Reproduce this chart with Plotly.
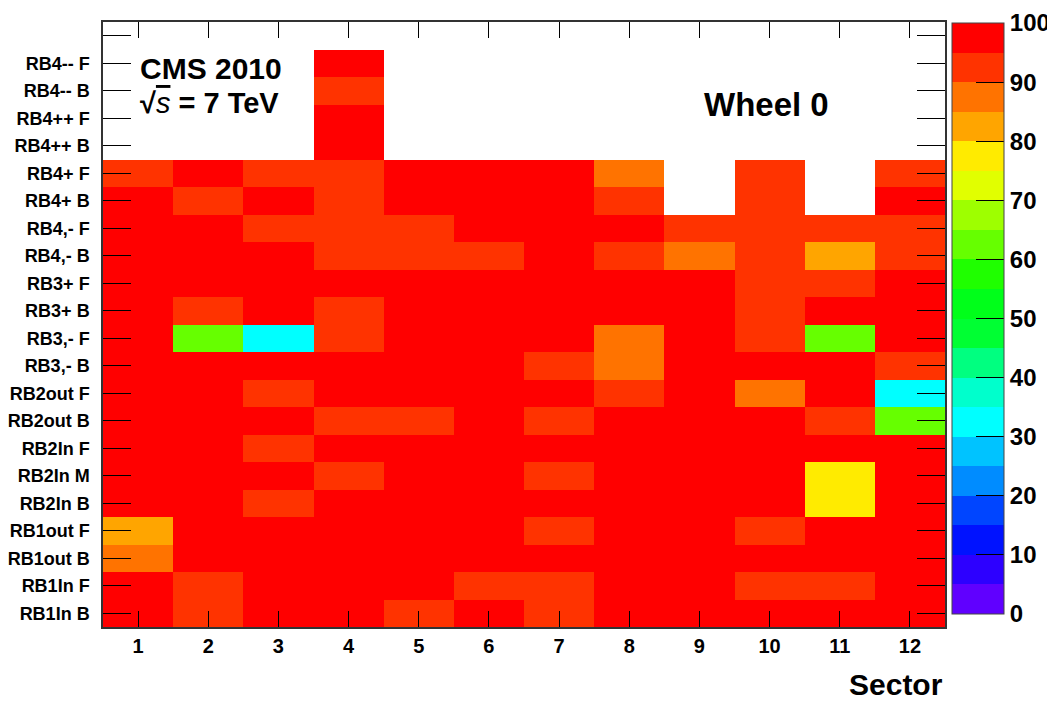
import plotly.graph_objects as go

sectors = list(range(1, 13))
row_labels = [
    "RB1In B", "RB1In F", "RB1out B", "RB1out F", "RB2In B", "RB2In M",
    "RB2In F", "RB2out B", "RB2out F", "RB3,- B", "RB3,- F", "RB3+ B",
    "RB3+ F", "RB4,- B", "RB4,- F", "RB4+ B", "RB4+ F", "RB4++ B",
    "RB4++ F", "RB4-- B", "RB4-- F", "",
]
N = None
rb1in_b   = [98, 93, 98, 98, 92, 98, 93, 98, 98, 98, 98, 98]
rb1in_f   = [98, 93, 98, 98, 98, 93, 92, 98, 98, 93, 93, 98]
rb1out_b  = [88, 98, 98, 98, 98, 98, 98, 98, 98, 98, 98, 98]
rb1out_f  = [83, 98, 98, 98, 98, 98, 93, 98, 98, 93, 98, 98]
rb2in_b   = [98, 98, 93, 98, 98, 98, 98, 98, 98, 98, 78, 98]
rb2in_m   = [98, 98, 98, 93, 98, 98, 93, 98, 98, 98, 78, 98]
rb2in_f   = [98, 98, 93, 98, 98, 98, 98, 98, 98, 98, 98, 98]
rb2out_b  = [98, 98, 98, 93, 93, 98, 93, 98, 98, 98, 93, 63]
rb2out_f  = [98, 98, 93, 98, 98, 98, 98, 93, 98, 88, 98, 33]
rb3m_b    = [98, 98, 98, 98, 98, 98, 93, 88, 98, 98, 98, 93]
rb3m_f    = [98, 63, 33, 93, 98, 98, 98, 88, 98, 93, 63, 98]
rb3p_b    = [98, 93, 98, 93, 98, 98, 98, 98, 98, 93, 98, 98]
rb3p_f    = [98, 98, 98, 98, 98, 98, 98, 98, 98, 93, 93, 98]
rb4m_b    = [98, 98, 98, 93, 93, 93, 98, 93, 88, 93, 83, 93]
rb4m_f    = [98, 98, 93, 93, 93, 98, 98, 98, 93, 93, 93, 93]
rb4p_b    = [98, 93, 98, 93, 98, 98, 98, 93, N, 93, N, 98]
rb4p_f    = [93, 98, 93, 93, 98, 98, 98, 88, N, 93, N, 93]
rb4pp_b   = [N, N, N, 98, N, N, N, N, N, N, N, N]
rb4pp_f   = [N, N, N, 98, N, N, N, N, N, N, N, N]
rb4mm_b   = [N, N, N, 93, N, N, N, N, N, N, N, N]
rb4mm_f   = [N, N, N, 98, N, N, N, N, N, N, N, N]
empty_row = [N] * 12

z = [rb1in_b, rb1in_f, rb1out_b, rb1out_f, rb2in_b, rb2in_m, rb2in_f,
     rb2out_b, rb2out_f, rb3m_b, rb3m_f, rb3p_b, rb3p_f, rb4m_b, rb4m_f,
     rb4p_b, rb4p_f, rb4pp_b, rb4pp_f, rb4mm_b, rb4mm_f, empty_row]
y_pos = list(range(1, len(row_labels) + 1))

band_colors = [
    "#6000FF", "#2D00FF", "#0012FF", "#0045FF", "#008CFF", "#00C3FF",
    "#00FFFF", "#00FFCC", "#00FF80", "#00FF33", "#00FF1A", "#1FFF00",
    "#66FF00", "#9EFF00", "#E1FF00", "#FFEB00", "#FFA500", "#FF7300",
    "#FF3300", "#FF0000",
]
nb = len(band_colors)
colorscale = []
for i, c in enumerate(band_colors):
    colorscale.append([i / nb, c])
    colorscale.append([(i + 1) / nb, c])

FONT = "Liberation Sans, Arial, sans-serif"

# page offset of the figure (browser body margin)
OFF = 8
PL, PR, PT, PB = 103, 945, 22, 627   # plot area in page pixels
PW, PH = PR - PL, PB - PT


def px(xp):
    return (xp - PL) / PW


def py(yp):
    return (PB - yp) / PH


fig = go.Figure(go.Heatmap(
    x=sectors, y=y_pos, z=z, zmin=0, zmax=100,
    colorscale=colorscale, xgap=0, ygap=0,
    colorbar=dict(
        thickness=52, thicknessmode="pixels",
        len=591, lenmode="pixels",
        x=px(952), xanchor="left",
        y=py(23), yanchor="top",
        xpad=0, ypad=0,
        outlinewidth=1, outlinecolor="#444",
        tickvals=list(range(0, 101, 10)),
        ticks="inside", ticklen=28, tickcolor="black", tickwidth=1,
        tickfont=dict(family=FONT, size=24, color="black", weight="bold"),
    ),
    hoverongaps=False,
))

fig.update_layout(
    width=1055 - OFF, height=704 - OFF,
    margin=dict(l=PL - OFF, r=1055 - PR, t=PT - OFF, b=704 - PB, autoexpand=False),
    paper_bgcolor="white", plot_bgcolor="white",
    font=dict(family=FONT, color="black"),
    xaxis=dict(
        range=[0.5, 12.5], tickvals=sectors, automargin=False,
        ticks="inside", ticklen=16, tickcolor="black", tickwidth=1,
        showline=True, linecolor="#333", linewidth=1.5, mirror="ticks",
        showgrid=False, zeroline=False,
        tickfont=dict(family=FONT, size=20, color="black", weight="bold"),
        ticklabelstandoff=0,
    ),
    yaxis=dict(
        range=[0.5, len(row_labels) + 0.5], tickvals=y_pos, ticktext=row_labels,
        automargin=False,
        ticks="inside", ticklen=28, tickcolor="black", tickwidth=1,
        showline=True, linecolor="#333", linewidth=1.5, mirror="ticks",
        showgrid=False, zeroline=False,
        tickfont=dict(family=FONT, size=18, color="black", weight="bold"),
        ticklabelstandoff=8,
    ),
    annotations=[
        dict(text="CMS 2010", xref="paper", yref="paper",
             x=px(138), y=py(69), xanchor="left", yanchor="middle",
             showarrow=False, font=dict(family=FONT, size=30, color="black", weight="bold")),
        dict(text="√<span style='text-decoration:overline'><i style='font-weight:normal'>s</i></span> = 7 TeV",
             xref="paper", yref="paper",
             x=px(138), y=py(103), xanchor="left", yanchor="middle",
             showarrow=False, font=dict(family=FONT, size=29, color="black", weight="bold")),
        dict(text="Wheel 0", xref="paper", yref="paper",
             x=px(702), y=py(105), xanchor="left", yanchor="middle",
             showarrow=False, font=dict(family=FONT, size=33, color="black", weight="bold")),
        dict(text="Sector", xref="paper", yref="paper",
             x=px(944), y=py(702), xanchor="right", yanchor="bottom",
             showarrow=False, borderpad=0,
             font=dict(family=FONT, size=30, color="black", weight="bold")),
    ],
)

fig.write_html("out.html")
